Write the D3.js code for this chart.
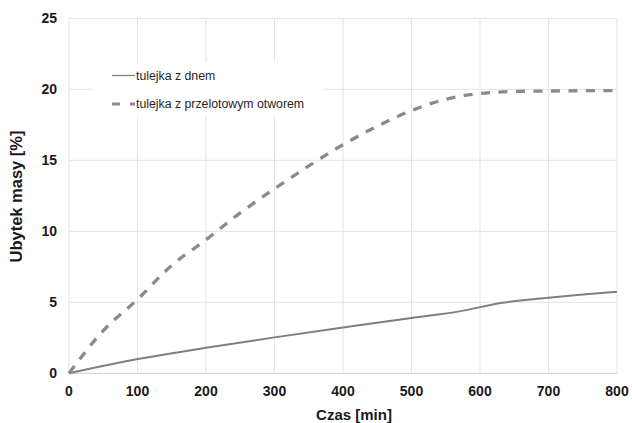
<!DOCTYPE html>
<html>
<head>
<meta charset="utf-8">
<script src="https://cdn.jsdelivr.net/npm/d3@7"></script>
<style>
  html, body { margin: 0; padding: 0; background: #fff; }
  svg { display: block; font-family: "Liberation Sans", Arial, sans-serif; }
</style>
</head>
<body>
<svg id="chart" width="632" height="423"></svg>
<script>
// Czas [min] – time axis ticks
const xTicks = [0, 100, 200, 300, 400, 500, 600, 700, 800];
const yTicks = [0, 5, 10, 15, 20, 25];

// tulejka z dnem
const timeDno = [0, 100, 200, 300, 400, 500, 570, 630, 700, 750, 800];
const lossDno = [0, 1.0, 1.8, 2.53, 3.22, 3.9, 4.36, 4.95, 5.32, 5.55, 5.75];

// tulejka z przelotowym otworem
const timeOtwor = [0, 50, 100, 150, 200, 250, 300, 350, 400, 450, 500, 550, 600, 650, 700, 750, 800];
const lossOtwor = [0, 3.0, 5.2, 7.6, 9.4, 11.3, 13.0, 14.6, 16.1, 17.4, 18.5, 19.3, 19.7, 19.85, 19.88, 19.9, 19.9];

const seriesNames = ["tulejka z dnem", "tulejka z przelotowym otworem"];

const svg = d3.select("#chart");
const x = d3.scaleLinear().domain([0, 800]).range([69, 617]);
const y = d3.scaleLinear().domain([0, 25]).range([373.3, 18.3]);

// grid
const grid = svg.append("g");
grid.selectAll("line.h").data(yTicks).join("line")
  .attr("x1", x(0)).attr("x2", x(800))
  .attr("y1", d => y(d)).attr("y2", d => y(d))
  .attr("stroke", d => d === 0 ? "#cfcfcf" : "#e3e3e3").attr("stroke-width", 1);
grid.selectAll("line.v").data(xTicks).join("line")
  .attr("x1", d => x(d)).attr("x2", d => x(d))
  .attr("y1", y(0)).attr("y2", y(25))
  .attr("stroke", "#e3e3e3").attr("stroke-width", 1);

// tick labels
svg.append("g").selectAll("text").data(xTicks).join("text")
  .attr("x", d => x(d)).attr("y", 395.5)
  .attr("text-anchor", "middle")
  .attr("font-size", 14).attr("font-weight", "bold").attr("fill", "#1a1a1a")
  .text(d => d);
svg.append("g").selectAll("text").data(yTicks).join("text")
  .attr("x", 57).attr("y", d => y(d)).attr("dy", "0.36em")
  .attr("text-anchor", "end")
  .attr("font-size", 14).attr("font-weight", "bold").attr("fill", "#1a1a1a")
  .text(d => d);

// axis titles
svg.append("text").attr("x", 354).attr("y", 420)
  .attr("text-anchor", "middle").attr("font-size", 15).attr("font-weight", "bold").attr("fill", "#1a1a1a")
  .text("Czas [min]");
svg.append("text").attr("transform", "translate(22,196.5) rotate(-90)")
  .attr("text-anchor", "middle").attr("font-size", 16.5).attr("font-weight", "bold").attr("fill", "#1a1a1a")
  .text("Ubytek masy [%]");

// series
const line = d3.line().x(d => x(d[0])).y(d => y(d[1])).curve(d3.curveMonotoneX);
svg.append("path")
  .datum(d3.zip(timeDno, lossDno))
  .attr("d", line).attr("fill", "none")
  .attr("stroke", "#7f7f7f").attr("stroke-width", 2);
svg.append("path")
  .datum(d3.zip(timeOtwor, lossOtwor))
  .attr("d", line).attr("fill", "none")
  .attr("stroke", "#8a8a8a").attr("stroke-width", 3.3)
  .attr("stroke-dasharray", "9,8.5");

// legend
const lg = svg.append("g");
lg.append("rect").attr("x", 92).attr("y", 62).attr("width", 232).attr("height", 55).attr("fill", "#fff");
lg.append("line").attr("x1", 112).attr("x2", 135).attr("y1", 75.5).attr("y2", 75.5)
  .attr("stroke", "#7f7f7f").attr("stroke-width", 1.2);
lg.append("line").attr("x1", 112).attr("x2", 135).attr("y1", 104).attr("y2", 104)
  .attr("stroke", "#8a8a8a").attr("stroke-width", 3).attr("stroke-dasharray", "8,10");
lg.selectAll("text").data(seriesNames).join("text")
  .attr("x", 136).attr("y", (d, i) => i === 0 ? 75.5 : 104).attr("dy", "0.35em")
  .attr("font-size", 12.3).attr("fill", "#262626")
  .text(d => d);
</script>
</body>
</html>
